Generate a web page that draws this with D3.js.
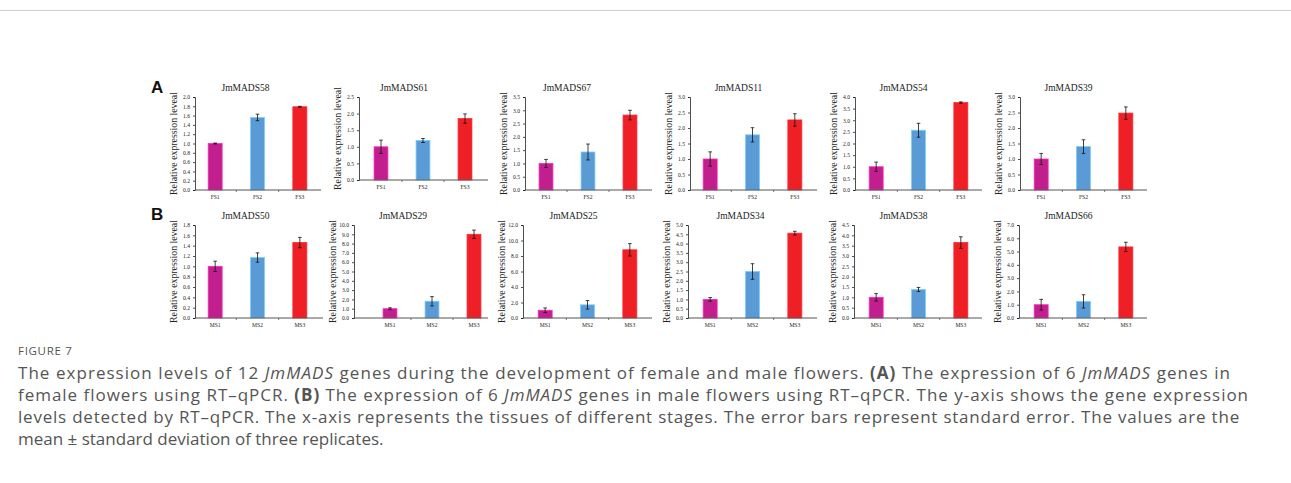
<!DOCTYPE html>
<html><head><meta charset="utf-8">
<script src="https://cdn.jsdelivr.net/npm/d3@7"></script>
<style>body{margin:0;background:#fff}svg{display:block}</style>
</head><body><svg id="c" width="1291" height="483"></svg>
<script>
// ---- data ----
const genes = ["JmMADS58","JmMADS61","JmMADS67","JmMADS11","JmMADS54","JmMADS39",
               "JmMADS50","JmMADS29","JmMADS25","JmMADS34","JmMADS38","JmMADS66"];
const femaleStages = ["FS1","FS2","FS3"];
const maleStages = ["MS1","MS2","MS3"];
const means = [
  [1.00,1.56,1.79],[1.00,1.19,1.85],[1.00,1.43,2.82],[1.00,1.78,2.26],[1.00,2.57,3.76],[1.00,1.40,2.48],
  [1.00,1.17,1.46],[1.00,1.80,9.00],[1.00,1.70,8.80],[1.00,2.50,4.56],[1.00,1.38,3.65],[1.00,1.25,5.35]
];
const errors = [
  [0.01,0.07,0.01],[0.20,0.06,0.14],[0.15,0.30,0.18],[0.23,0.23,0.20],[0.20,0.30,0.03],[0.18,0.22,0.20],
  [0.10,0.09,0.10],[0.10,0.50,0.45],[0.30,0.55,0.80],[0.10,0.42,0.10],[0.18,0.10,0.28],[0.40,0.50,0.35]
];
const yMax  = [2.0,2.5,3.5,3.0,4.0,3.0, 1.8,10.0,12.0,5.0,4.5,7.0];
const yStep = [0.2,0.5,0.5,0.5,0.5,0.5, 0.2,1.0,2.0,0.5,0.5,1.0];
const yLabel = "Relative expression leveal";
const rowLetters = ["A","B"];
const captionHead = "FIGURE 7";
const captionLines = [
  [["The expression levels of 12 ",""],["JmMADS","i"],[" genes during the development of female and male flowers. ",""],["(A)","b"],[" The expression of 6 ",""],["JmMADS","i"],[" genes in",""]],
  [["female flowers using RT\u2013qPCR. ",""],["(B)","b"],[" The expression of 6 ",""],["JmMADS","i"],[" genes in male flowers using RT\u2013qPCR. The y-axis shows the gene expression",""]],
  [["levels detected by RT\u2013qPCR. The x-axis represents the tissues of different stages. The error bars represent standard error. The values are the",""]],
  [["mean \u00b1 standard deviation of three replicates.",""]]
];

// ---- layout ----
const colors = ["#C21F8E","#5B9BD5","#EE1F25"];
// [axisX, bandStart, bandEnd, axisEnd, top, bottom, titleDx]
const geom = [
  [195,194,321,321,97,190,-12],[359,360,486,488,97,180,-19],[525,525,651,652,97,190,-21],
  [690,689,816,817,97,190,-14],[855,855,982,982,97,190,-15],[1020,1020,1147,1147,97,190,-15],
  [195,194,321,323,225,318,-12],[354,369,495,488,225,318,-29],[523,524,651,652,225,318,-14],
  [688,689,816,817,225,318,-12],[854,855,982,982,225,318,-15],[1019,1020,1147,1147,225,318,-15]
];
const capTargets = [1213,1231,1222,null]; // right-edge extents of caption lines (px from left margin)

const svg = d3.select("#c");
svg.append("line").attr("x1",0).attr("x2",1291).attr("y1",10.5).attr("y2",10.5)
  .attr("stroke","#cfcfcf").attr("stroke-width",1);

const serif = "'Liberation Serif','Times New Roman',serif";
genes.forEach((g,i)=>{
  const [ax,b0,b1,ae,top,bot,tdx] = geom[i];
  const cats = i<6 ? femaleStages : maleStages;
  const x = d3.scaleBand().domain(cats).range([b0,b1]).padding(0);
  const y = d3.scaleLinear().domain([0,yMax[i]]).range([bot,top]);
  const p = svg.append("g");
  const ticks = d3.range(0, yMax[i]+yStep[i]/2, yStep[i]);
  const ya = p.append("g").attr("transform",`translate(${ax},0)`)
    .call(d3.axisLeft(y).tickValues(ticks).tickFormat(d3.format(".1f")).tickSize(2).tickPadding(3));
  ya.select(".domain").attr("stroke","#222").attr("stroke-width",0.8);
  ya.selectAll(".tick line").attr("stroke","#222").attr("stroke-width",0.8);
  ya.selectAll("text").attr("font-family",serif).attr("font-size",5.6).attr("fill","#222");
  const bw = x.bandwidth()*0.33;
  p.selectAll("rect").data(means[i]).join("rect")
    .attr("x",(d,j)=>x(cats[j])+x.bandwidth()/2-bw/2)
    .attr("y",d=>y(d)).attr("width",bw).attr("height",d=>bot-y(d))
    .attr("fill",(d,j)=>colors[j]).attr("stroke",(d,j)=>d3.color(colors[j]).brighter(0.8))
    .attr("stroke-width",0.8);
  means[i].forEach((m,j)=>{
    const cx = x(cats[j])+x.bandwidth()/2, e = errors[i][j];
    const y1 = y(m+e), y2 = y(m-e);
    p.append("line").attr("x1",cx).attr("x2",cx).attr("y1",y1).attr("y2",y2).attr("stroke","#111").attr("stroke-width",0.8);
    [y1,y2].forEach(yy=>p.append("line").attr("x1",cx-1.8).attr("x2",cx+1.8).attr("y1",yy).attr("y2",yy).attr("stroke","#111").attr("stroke-width",0.8));
  });
  p.append("line").attr("x1",ax).attr("x2",ae).attr("y1",bot).attr("y2",bot).attr("stroke","#555").attr("stroke-width",1.2);
  [1,2].forEach(k=>{
    const tx = b0 + (b1-b0)*k/3;
    p.append("line").attr("x1",tx).attr("x2",tx).attr("y1",bot).attr("y2",bot+2).attr("stroke","#555").attr("stroke-width",0.8);
  });
  cats.forEach(c=>p.append("text").attr("x",x(c)+x.bandwidth()/2).attr("y",bot+9)
    .attr("text-anchor","middle").attr("font-family",serif).attr("font-size",5.6).attr("fill","#222").text(c));
  p.append("text").attr("x",(b0+b1)/2+tdx).attr("y",top-6).attr("text-anchor","middle")
    .attr("font-family",serif).attr("font-size",9.5).attr("fill","#222").text(g);
  p.append("text").attr("transform",`translate(${ax-18},${(top+bot)/2}) rotate(-90)`)
    .attr("text-anchor","middle").attr("font-family",serif).attr("font-size",9.8).attr("fill","#222").text(yLabel);
});
rowLetters.forEach((L,k)=>svg.append("text").attr("x",151).attr("y",k===0?93:220)
  .attr("font-family","'Liberation Sans',Arial,sans-serif").attr("font-weight","bold").attr("font-size",17).attr("fill","#111").text(L));

// caption
svg.append("text").attr("x",18).attr("y",355).attr("font-family","'Open Sans',sans-serif")
  .attr("font-size",11.5).attr("letter-spacing",0.7).attr("fill","#555").text(captionHead);
const capFont = "'Open Sans',sans-serif";
const capSize = 17;
captionLines.forEach((ln,k)=>{
  const t = svg.append("text").attr("x",18).attr("y",379+k*22).attr("font-family",capFont)
    .attr("font-size",capSize).attr("fill","#555");
  ln.forEach(([s,st])=>{
    const ts = t.append("tspan").text(s);
    if(st==="i") ts.attr("font-style","italic");
    if(st==="b") ts.attr("font-weight","bold");
  });
  if(capTargets[k]){
    const w = t.node().getComputedTextLength();
    const n = ln.map(d=>d[0]).join("").length;
    t.attr("letter-spacing", Math.max(0,(capTargets[k]-w)/n));
  }
});
</script></body></html>
